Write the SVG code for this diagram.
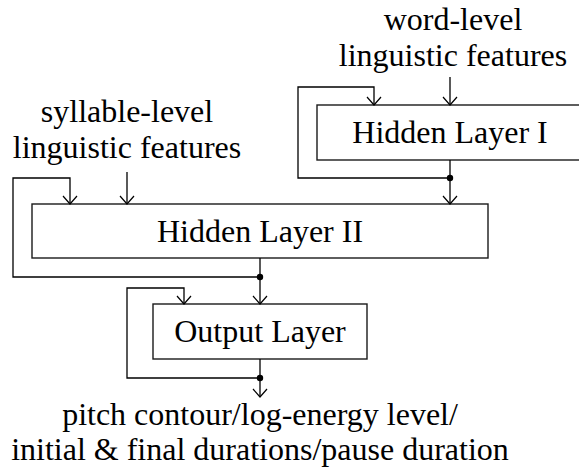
<svg xmlns="http://www.w3.org/2000/svg" width="579" height="469" viewBox="0 0 579 469">
<style>
text{font-family:'Times New Roman','Liberation Serif',Tinos,Times,serif;font-size:32px;fill:#000;text-anchor:middle}
.box{fill:#fff;stroke:#1a1a1a;stroke-width:1.4}
.c{fill:none;stroke:#000;stroke-width:1.3}
.dot{fill:#000}
</style>
<defs>
<marker id="ah" markerUnits="userSpaceOnUse" markerWidth="20" markerHeight="20" refX="10" refY="10" orient="auto" overflow="visible">
<path d="M2,3 L10,10 L2,17" fill="none" stroke="#000" stroke-width="1.2"/>
</marker>
</defs>
<rect width="579" height="469" fill="#fff"/>
<g id="label-word">
<text x="453" y="30">word-level</text>
<text x="453" y="66">linguistic features</text>
</g>
<g id="label-syllable">
<text x="127" y="122">syllable-level</text>
<text x="127" y="158">linguistic features</text>
</g>
<g id="hidden1">
<rect class="box" x="317" y="105" width="264" height="55"/>
<text x="450" y="143">Hidden Layer I</text>
</g>
<g id="hidden2">
<rect class="box" x="32" y="204" width="456" height="54"/>
<text x="260" y="242">Hidden Layer II</text>
</g>
<g id="output">
<rect class="box" x="153" y="304" width="214" height="55"/>
<text x="260" y="342">Output Layer</text>
</g>
<g id="label-out">
<text x="260" y="425">pitch contour/log-energy level/</text>
<text x="260" y="460">initial &amp; final durations/pause duration</text>
</g>
<g id="connectors">
<line class="c" x1="450" y1="77" x2="450" y2="105" marker-end="url(#ah)"/>
<polyline class="c" points="450,178 298,178 298,87 374,87 374,105" marker-end="url(#ah)"/>
<line class="c" x1="450" y1="160" x2="450" y2="204" marker-end="url(#ah)"/>
<circle class="dot" cx="450" cy="178" r="3.2"/>
<line class="c" x1="127" y1="172" x2="127" y2="204" marker-end="url(#ah)"/>
<polyline class="c" points="260,277 13,277 13,178 70,178 70,204" marker-end="url(#ah)"/>
<line class="c" x1="260" y1="258" x2="260" y2="304" marker-end="url(#ah)"/>
<circle class="dot" cx="260" cy="277" r="3.2"/>
<polyline class="c" points="260,378 127,378 127,288 184,288 184,304" marker-end="url(#ah)"/>
<line class="c" x1="260" y1="359" x2="260" y2="397" marker-end="url(#ah)"/>
<circle class="dot" cx="260" cy="378" r="3.2"/>
</g>
</svg>
